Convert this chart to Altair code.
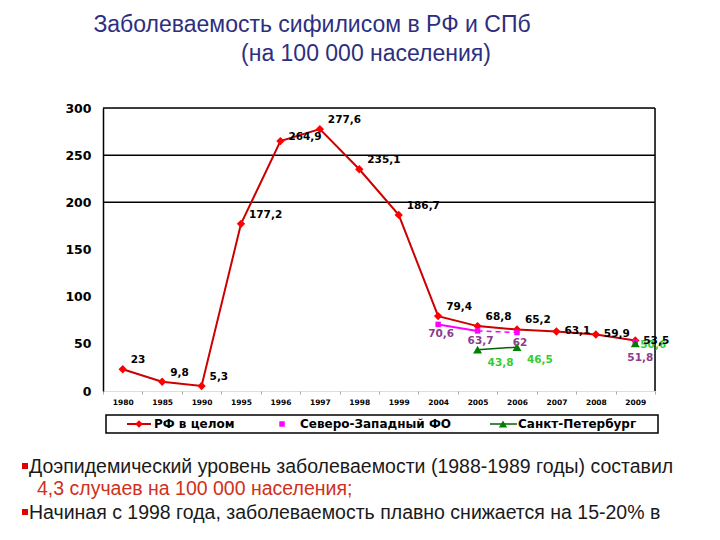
import altair as alt
import pandas as pd

years = ["1980", "1985", "1990", "1995", "1996", "1997", "1998", "1999",
         "2004", "2005", "2006", "2007", "2008", "2009"]
rf = [23, 9.8, 5.3, 177.2, 264.9, 277.6, 235.1, 186.7, 79.4, 68.8, 65.2, 63.1, 59.9, 53.5]
nw = [None, None, None, None, None, None, None, None, 70.6, 63.7, 62, None, None, 51.8]
spb = [None, None, None, None, None, None, None, None, None, 43.8, 46.5, None, None, 50.6]
gridlines = [200, 250, 300]
y_ticks = [0, 50, 100, 150, 200, 250, 300]

title_lines = ["Заболеваемость сифилисом в РФ и СПб", "(на 100 000 населения)"]
legend_labels = ["РФ в целом", "Северо-Западный ФО", "Санкт-Петербург"]
bullet1 = "Доэпидемический уровень заболеваемости (1988-1989 годы) составил"
bullet1b = "4,3 случаев на 100 000 населения;"
bullet2 = "Начиная с 1998 года, заболеваемость плавно снижается на 15-20% в"


def fmt(v):
    return f"{v:g}".replace(".", ",")


def frame(vals):
    rows = [{"year": y, "value": v, "label": fmt(v)} for y, v in zip(years, vals) if v is not None]
    return pd.DataFrame(rows)


df_rf = frame(rf)
df_nw = frame(nw)
df_spb = frame(spb)
df_grid = pd.DataFrame({"v": gridlines})
one = pd.DataFrame({"a": [0]})

W, H = 552, 283
FONT = "DejaVu Sans"
LFS = 10.5

xenc = alt.X("year:N", sort=years, title=None,
             scale=alt.Scale(type="band", paddingInner=0, paddingOuter=0),
             axis=alt.Axis(labelAngle=0, labelFont=FONT, labelFontWeight="bold",
                           labelFontSize=7.5, labelColor="black", domain=False,
                           tickBand="extent", tickSize=3, tickColor="#aaaaaa",
                           labelPadding=4, grid=False))
yenc = alt.Y("value:Q", title=None,
             scale=alt.Scale(domain=[0, 300], nice=False, zero=True),
             axis=alt.Axis(values=y_ticks, labelFont=FONT, labelFontWeight="bold",
                           labelFontSize=12.5, labelColor="black", domainColor="black",
                           domainWidth=1.5, ticks=False, grid=False, labelPadding=12))


def pick(df, keys):
    return alt.Chart(df).transform_filter(alt.FieldOneOfPredicate(field="year", oneOf=keys))


grid = alt.Chart(df_grid).mark_rule(color="black", strokeWidth=1.5).encode(
    y=alt.Y("v:Q", scale=alt.Scale(domain=[0, 300], nice=False)))
rborder = alt.Chart(one).mark_rule(color="black", strokeWidth=1.5).encode(
    x=alt.value(W), y=alt.value(0), y2=alt.value(H))

# RF
rf_line = alt.Chart(df_rf).mark_line(color="#cc0000", strokeWidth=2).encode(x=xenc, y=yenc)
rf_pts = alt.Chart(df_rf).mark_point(shape="diamond", filled=True, color="#ff0000",
                                     size=70, opacity=1).encode(x=xenc, y=yenc)
lab_kw = dict(align="left", baseline="middle", font=FONT, fontWeight="bold", fontSize=LFS)
rf_lab_a = pick(df_rf, years[:4] + years[5:11]).mark_text(dx=8, dy=-9, color="black", **lab_kw).encode(
    x=xenc, y=yenc, text="label:N")
rf_lab_c = pick(df_rf, ["1996"]).mark_text(dx=8, dy=-4, color="black", **lab_kw).encode(
    x=xenc, y=yenc, text="label:N")
rf_lab_b = pick(df_rf, years[11:]).mark_text(dx=8, dy=0, color="black", **lab_kw).encode(
    x=xenc, y=yenc, text="label:N")

# NW
nw_solid = pick(df_nw, ["2004", "2005"]).mark_line(color="#ff00ff", strokeWidth=2).encode(x=xenc, y=yenc)
nw_dash = pick(df_nw, ["2005", "2006"]).mark_line(color="#ff00ff", strokeWidth=1.5,
                                                  strokeDash=[5, 4]).encode(x=xenc, y=yenc)
nw_pts = alt.Chart(df_nw).mark_point(shape="square", filled=True, color="#ff00ff",
                                     size=30, opacity=1).encode(x=xenc, y=yenc)
nw_kw = dict(align="center", baseline="middle", font=FONT, fontWeight="bold", fontSize=LFS,
             color="#8e3b8e")
nw_lab_a = pick(df_nw, ["2004", "2005", "2006"]).mark_text(dx=3, dy=10, **nw_kw).encode(
    x=xenc, y=yenc, text="label:N")
nw_lab_b = pick(df_nw, ["2009"]).mark_text(dx=5, dy=16, **nw_kw).encode(
    x=xenc, y=yenc, text="label:N")

# SPb
spb_line = pick(df_spb, ["2005", "2006"]).mark_line(color="#006400", strokeWidth=1.5).encode(x=xenc, y=yenc)
spb_pts = alt.Chart(df_spb).mark_point(shape="triangle-up", filled=True, color="#008000",
                                       size=80, opacity=1).encode(x=xenc, y=yenc)
spb_kw = dict(align="left", baseline="middle", font=FONT, fontWeight="bold", fontSize=LFS,
              color="#33cc33")
spb_lab_a = pick(df_spb, ["2005", "2006"]).mark_text(dx=10, dy=13, **spb_kw).encode(
    x=xenc, y=yenc, text="label:N")
spb_lab_b = pick(df_spb, ["2009"]).mark_text(dx=5, dy=2, **spb_kw).encode(
    x=xenc, y=yenc, text="label:N")

# Legend (drawn)
LY = 316
leg = [
    alt.Chart(one).mark_rect(fill="white", stroke="black", strokeWidth=1.5).encode(
        x=alt.value(3), x2=alt.value(555), y=alt.value(307), y2=alt.value(325)),
    alt.Chart(one).mark_rule(color="#cc0000", strokeWidth=2).encode(
        x=alt.value(24), x2=alt.value(48), y=alt.value(LY)),
    alt.Chart(one).mark_point(shape="diamond", filled=True, color="#ff0000", size=60, opacity=1).encode(
        x=alt.value(36), y=alt.value(LY)),
    alt.Chart(one).mark_text(text=legend_labels[0], align="left", baseline="middle", font=FONT,
                             fontWeight="bold", fontSize=12, color="black").encode(
        x=alt.value(51), y=alt.value(LY)),
    alt.Chart(one).mark_point(shape="square", filled=True, color="#ff00ff", size=30, opacity=1).encode(
        x=alt.value(179), y=alt.value(LY)),
    alt.Chart(one).mark_text(text=legend_labels[1], align="left", baseline="middle", font=FONT,
                             fontWeight="bold", fontSize=12, color="black").encode(
        x=alt.value(197), y=alt.value(LY)),
    alt.Chart(one).mark_rule(color="#006400", strokeWidth=1.5).encode(
        x=alt.value(387), x2=alt.value(414), y=alt.value(LY)),
    alt.Chart(one).mark_point(shape="triangle-up", filled=True, color="#008000", size=70, opacity=1).encode(
        x=alt.value(400), y=alt.value(LY)),
    alt.Chart(one).mark_text(text=legend_labels[2], align="left", baseline="middle", font=FONT,
                             fontWeight="bold", fontSize=12, color="black").encode(
        x=alt.value(415), y=alt.value(LY)),
]

# Title and bullet text
TF = "Liberation Sans"
BFS = 19.5
texts = [
    alt.Chart(one).mark_text(text=title_lines[0], align="center", baseline="alphabetic", font=TF,
                             fontSize=23, color="#2e2e80").encode(x=alt.value(209), y=alt.value(-76)),
    alt.Chart(one).mark_text(text=title_lines[1], align="center", baseline="alphabetic", font=TF,
                             fontSize=23, color="#2e2e80").encode(x=alt.value(263), y=alt.value(-47)),
    alt.Chart(one).mark_rect(color="#e00000").encode(
        x=alt.value(-81), x2=alt.value(-75), y=alt.value(355), y2=alt.value(361)),
    alt.Chart(one).mark_text(text=bullet1, align="left", baseline="alphabetic", font=TF,
                             fontSize=BFS, color="#1a1a1a").encode(x=alt.value(-74), y=alt.value(365)),
    alt.Chart(one).mark_text(text=bullet1b, align="left", baseline="alphabetic", font=TF,
                             fontSize=BFS, color="#d03020").encode(x=alt.value(-66), y=alt.value(387)),
    alt.Chart(one).mark_rect(color="#e00000").encode(
        x=alt.value(-81), x2=alt.value(-75), y=alt.value(401), y2=alt.value(407)),
    alt.Chart(one).mark_text(text=bullet2, align="left", baseline="alphabetic", font=TF,
                             fontSize=BFS, color="#1a1a1a").encode(x=alt.value(-74), y=alt.value(411)),
]

chart = alt.layer(
    grid, rborder,
    rf_line, nw_solid, nw_dash, spb_line,
    rf_pts, nw_pts, spb_pts,
    nw_lab_a, nw_lab_b, spb_lab_a, spb_lab_b,
    rf_lab_a, rf_lab_c, rf_lab_b,
    *leg, *texts
).properties(
    width=W, height=H,
    autosize=alt.AutoSizeParams(type="none"),
    padding={"left": 95, "top": 100, "right": 57, "bottom": 141},
).configure_view(stroke=None).configure(background="white")

chart.save("out.html", embed_options={"renderer": "svg", "actions": False})
